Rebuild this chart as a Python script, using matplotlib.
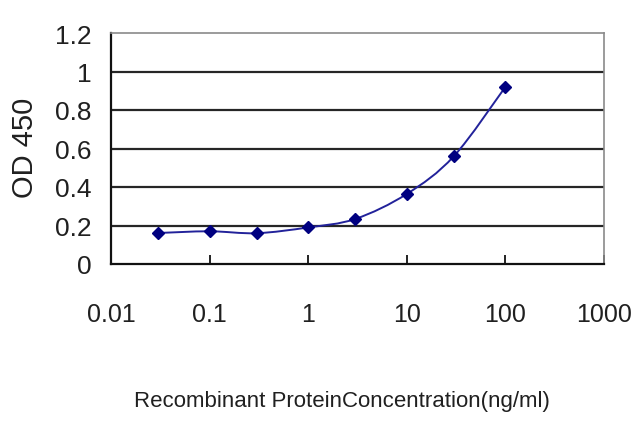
import numpy as np
import matplotlib
matplotlib.use("Agg")
import matplotlib.pyplot as plt
from matplotlib.path import Path
from matplotlib.patches import PathPatch

# ---- data ----
conc = [0.03, 0.1, 0.3, 1, 3, 10, 30, 100]
od450 = [0.161, 0.170, 0.160, 0.190, 0.234, 0.364, 0.560, 0.920]
xticks = [0.01, 0.1, 1, 10, 100, 1000]
xtick_labels = ["0.01", "0.1", "1", "10", "100", "1000"]
yticks = [0, 0.2, 0.4, 0.6, 0.8, 1.0, 1.2]
ytick_labels = ["0", "0.2", "0.4", "0.6", "0.8", "1", "1.2"]
xlabel = "Recombinant ProteinConcentration(ng/ml)"
ylabel = "OD 450"

REG = ["Liberation Sans", "DejaVu Sans"]
TXT = "#202020"
NAVY = "#000080"

fig = plt.figure(figsize=(6.4, 4.27), dpi=100)
ax = fig.add_axes([111 / 640, 1 - 265 / 427, 493 / 640, (265 - 34) / 427])
ax.set_xscale("log")
ax.set_xlim(0.01, 1000)
ax.set_ylim(0, 1.2)

# gridlines
for v in yticks[1:-1]:
    ax.axhline(v, color="#262626", lw=1.6, zorder=1)

# smoothed line (Excel-style bezier in log-x space)
lx = np.log10(conc)
y = np.array(od450)
P = np.column_stack([lx, y])
n = len(P)
verts = [P[0]]
codes = [Path.MOVETO]
for i in range(n - 1):
    p0 = P[i - 1] if i > 0 else P[i]
    p1 = P[i]
    p2 = P[i + 1]
    p3 = P[i + 2] if i + 2 < n else P[i + 1]
    c1 = p1 + (p2 - p0) / 6.0
    c2 = p2 - (p3 - p1) / 6.0
    verts += [c1, c2, p2]
    codes += [Path.CURVE4] * 3
verts = np.array(verts)
verts[:, 0] = 10 ** verts[:, 0]
ax.add_patch(PathPatch(Path(verts, codes), facecolor="none", edgecolor="#22229a",
                       lw=1.4, zorder=3))
ax.plot(conc, od450, linestyle="none", marker="D", ms=6.5, color=NAVY,
        mec=NAVY, zorder=4)

# spines
for s in ["left", "bottom"]:
    ax.spines[s].set_color("#111111")
    ax.spines[s].set_linewidth(1.6)
for s in ["top", "right"]:
    ax.spines[s].set_color("#8a8a8a")
    ax.spines[s].set_linewidth(1.2)

ax.set_xticks(xticks)
ax.set_xticklabels(xtick_labels)
ax.xaxis.set_minor_locator(matplotlib.ticker.NullLocator())
ax.set_yticks(yticks)
ax.set_yticklabels(ytick_labels)
ax.tick_params(axis="x", direction="in", length=6.5, width=1.3, color="#111111",
               pad=27, labelsize=18, labelcolor=TXT)
ax.tick_params(axis="y", length=0, pad=14, labelsize=19, labelcolor=TXT)
for lab in ax.get_xticklabels() + ax.get_yticklabels():
    lab.set_family(REG)

fig.text(25 / 640, 1 - 148 / 427, ylabel, rotation=90, ha="center", va="center",
         fontsize=21, family=REG, color=TXT)
fig.text(342 / 640, 1 - 402 / 427, xlabel, ha="center", va="center",
         fontsize=16, family=REG, color=TXT)

fig.savefig("out.png", dpi=100)
